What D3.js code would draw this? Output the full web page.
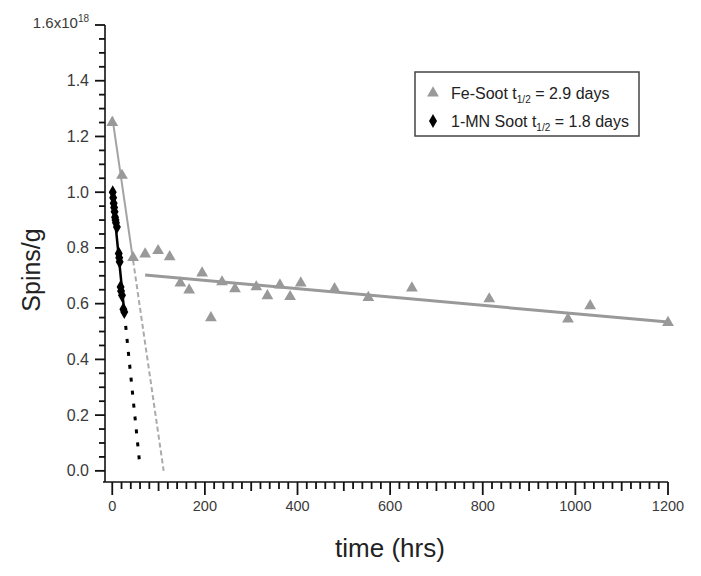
<!DOCTYPE html>
<html>
<head>
<meta charset="utf-8">
<script src="https://cdnjs.cloudflare.com/ajax/libs/d3/7.8.5/d3.min.js"></script>
<style>
body { margin: 0; background: #fff; }
text { font-family: "Liberation Sans", Arial, sans-serif; }
</style>
</head>
<body>
<div class="diagram"></div>
<script>
var width = 701, height = 576;

// Fe-Soot (grey triangles): time in hrs, spins/g in units of 1e18
var feTime  = [0, 21, 45, 71, 99, 124, 147, 166, 194, 213, 237, 265, 311, 335, 362, 384, 407, 480, 553, 647, 814, 984, 1032, 1200];
var feSpins = [1.25, 1.06, 0.765, 0.778, 0.79, 0.768, 0.674, 0.649, 0.71, 0.549, 0.678, 0.653, 0.66, 0.628, 0.667, 0.625, 0.674, 0.653, 0.622, 0.656, 0.617, 0.545, 0.592, 0.532];

// 1-MN Soot (black diamonds)
var mnTime  = [1, 2, 3, 4, 5, 6, 7, 8, 10, 14, 15, 16, 18, 19, 21, 24, 26];
var mnSpins = [1.0, 0.98, 0.96, 0.945, 0.93, 0.91, 0.9, 0.89, 0.875, 0.78, 0.765, 0.75, 0.66, 0.645, 0.63, 0.58, 0.57];

// fitted lines: [t, value] pairs
var feFastSolid  = [[0, 1.27], [45, 0.755]];
var feFastDashed = [[45, 0.755], [111, 0.0]];
var feSlow       = [[71, 0.703], [1200, 0.534]];
var mnSolid      = [[0, 1.0], [26, 0.57]];
var mnDotted     = [[29, 0.52], [59, 0.03]];

var yMajor = [0, 0.2, 0.4, 0.6, 0.8, 1.0, 1.2, 1.4, 1.6];
var xMajor = [0, 200, 400, 600, 800, 1000, 1200];

var svg = d3.select('.diagram')
	.append('svg')
	.attr('width', width)
	.attr('height', height);

var x = d3.scaleLinear().domain([-20, 1200]).range([103, 668]);
var y = d3.scaleLinear().domain([-0.04, 1.6]).range([482, 25]);

var yMinor = d3.range(0, 1.6001, 0.05).filter(function(v) { return Math.abs(v * 5 - Math.round(v * 5)) > 1e-6; });
var xMinor = d3.range(0, 1200.1, 20).filter(function(v) { return v % 200 !== 0; });

// y axis
var yAxisG = svg.append('g').attr('transform', 'translate(105,0)');
yAxisG.append('line')
	.attr('x1', 0).attr('x2', 0)
	.attr('y1', y(1.6)).attr('y2', 482)
	.attr('stroke', '#111').attr('stroke-width', 1.6);
yAxisG.selectAll('.ymin').data(yMinor).enter().append('line')
	.attr('x1', -6).attr('x2', 0)
	.attr('y1', function(d) { return y(d); }).attr('y2', function(d) { return y(d); })
	.attr('stroke', '#111').attr('stroke-width', 1.8);
yAxisG.selectAll('.ymaj').data(yMajor).enter().append('line')
	.attr('x1', -10).attr('x2', 0)
	.attr('y1', function(d) { return y(d); }).attr('y2', function(d) { return y(d); })
	.attr('stroke', '#111').attr('stroke-width', 1.8);
var yLabels = yAxisG.selectAll('.ylab').data(yMajor).enter().append('text')
	.attr('x', -16)
	.attr('y', function(d) { return y(d) + 5.5; })
	.attr('text-anchor', 'end')
	.attr('font-size', 16)
	.attr('fill', '#3a3a3a');
yLabels.each(function(d) {
	var t = d3.select(this);
	if (d === 1.6) {
		t.attr('font-size', 15).attr('y', y(d) + 3);
		t.append('tspan').text('1.6x10');
		t.append('tspan').attr('font-size', 10).attr('dy', -6).text('18');
	} else {
		t.text(d3.format('.1f')(d));
	}
});

// x axis
var xAxisG = svg.append('g').attr('transform', 'translate(0,482)');
xAxisG.append('line')
	.attr('x1', 103).attr('x2', x(1200))
	.attr('y1', 0).attr('y2', 0)
	.attr('stroke', '#111').attr('stroke-width', 1.6);
xAxisG.selectAll('.xmin').data(xMinor).enter().append('line')
	.attr('x1', function(d) { return x(d); }).attr('x2', function(d) { return x(d); })
	.attr('y1', 0).attr('y2', function(d) { return d % 100 === 0 ? 9 : 7; })
	.attr('stroke', '#111').attr('stroke-width', 1.8);
xAxisG.selectAll('.xmaj').data(xMajor).enter().append('line')
	.attr('x1', function(d) { return x(d); }).attr('x2', function(d) { return x(d); })
	.attr('y1', 0).attr('y2', 13)
	.attr('stroke', '#111').attr('stroke-width', 1.8);
xAxisG.selectAll('.xlab').data(xMajor).enter().append('text')
	.attr('x', function(d) { return x(d); })
	.attr('y', 29)
	.attr('text-anchor', 'middle')
	.attr('font-size', 14.5)
	.attr('fill', '#3a3a3a')
	.text(function(d) { return d; });

// axis titles
svg.append('text')
	.attr('transform', 'translate(40,270) rotate(-90)')
	.attr('text-anchor', 'middle')
	.attr('font-size', 25)
	.attr('fill', '#222')
	.text('Spins/g');
svg.append('text')
	.attr('x', 390).attr('y', 557)
	.attr('text-anchor', 'middle')
	.attr('font-size', 26)
	.attr('fill', '#222')
	.text('time (hrs)');

var line = d3.line()
	.x(function(d) { return x(d[0]); })
	.y(function(d) { return y(d[1]); });

var lines = svg.append('g').attr('class', 'fits');
lines.append('path').attr('d', line(feSlow))
	.attr('stroke', '#999').attr('stroke-width', 3).attr('fill', 'none');
lines.append('path').attr('d', line(feFastSolid))
	.attr('stroke', '#a3a3a3').attr('stroke-width', 2).attr('fill', 'none');
lines.append('path').attr('d', line(feFastDashed))
	.attr('stroke', '#aaa').attr('stroke-width', 2).attr('stroke-dasharray', '5,3').attr('fill', 'none');

// grey triangles
var tri = d3.symbol().type(d3.symbolTriangle).size(60);
svg.append('g').selectAll('.fe')
	.data(feTime)
	.enter().append('path')
	.attr('class', 'fe')
	.attr('d', tri)
	.attr('transform', function(d, i) { return 'translate(' + x(d) + ',' + y(feSpins[i]) + ')'; })
	.attr('fill', '#999');

lines.append('path').attr('d', line(mnSolid))
	.attr('stroke', '#000').attr('stroke-width', 2.5).attr('fill', 'none');
svg.append('path').attr('d', line(mnDotted))
	.attr('stroke', '#000').attr('stroke-width', 3).attr('stroke-dasharray', '4,9').attr('fill', 'none');

// black diamonds
var dia = d3.symbol().type(d3.symbolDiamond).size(55);
svg.append('g').selectAll('.mn')
	.data(mnTime)
	.enter().append('path')
	.attr('class', 'mn')
	.attr('d', dia)
	.attr('transform', function(d, i) { return 'translate(' + x(d) + ',' + y(mnSpins[i]) + ')'; })
	.attr('fill', '#000');

// legend
var legend = svg.append('g');
legend.append('rect')
	.attr('x', 415).attr('y', 72).attr('width', 224).attr('height', 64)
	.attr('fill', '#fff').attr('stroke', '#444').attr('stroke-width', 1.5);
legend.append('path').attr('d', tri).attr('transform', 'translate(433,93)').attr('fill', '#999');
legend.append('path').attr('d', dia).attr('transform', 'translate(433,121)').attr('fill', '#000');
var legendRows = [
	{ name: 'Fe-Soot t', rest: ' = 2.9 days', y: 99 },
	{ name: '1-MN Soot t', rest: ' = 1.8 days', y: 127 }
];
legendRows.forEach(function(r) {
	var t = legend.append('text').attr('x', 451).attr('y', r.y).attr('font-size', 16).attr('fill', '#222');
	t.append('tspan').text(r.name);
	t.append('tspan').attr('font-size', 10).attr('dy', 4).text('1/2');
	t.append('tspan').attr('dy', -4).text(r.rest);
});
</script>
</body>
</html>
